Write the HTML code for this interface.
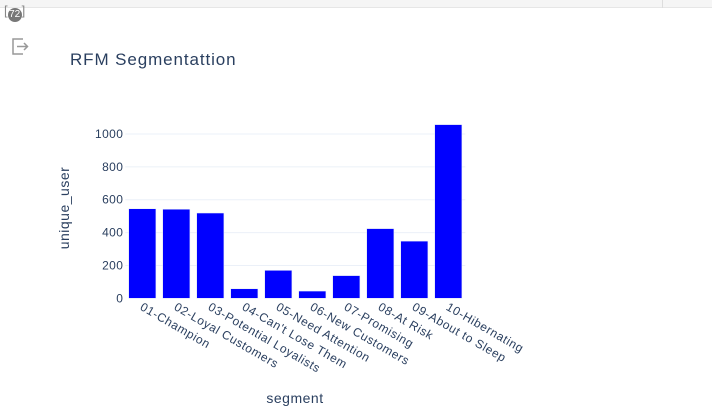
<!DOCTYPE html>
<html><head><meta charset="utf-8"><style>
body{margin:0;width:712px;height:418px;background:#fff;overflow:hidden;font-family:"Liberation Sans",sans-serif;}
</style></head><body>
<div style="position:absolute;left:0;top:0;width:712px;height:7px;background:#f5f5f5;border-bottom:1px solid #e6e6e6"></div>
<div style="position:absolute;left:662px;top:0;width:1px;height:8px;background:#ddd"></div>
<div style="position:absolute;left:4px;top:3px;font-size:13px;color:#888">[<span style="display:inline-block;width:14px;height:14px;border-radius:7px;background:#777;color:#fff;font-size:10px;text-align:center;line-height:14px;vertical-align:-2px">72</span>]</div>
<svg style="position:absolute;left:11px;top:37px" width="20" height="20"><path d="M12 2H2v15h10M6 9.5h10M13 6l3.5 3.5L13 13" fill="none" stroke="#999" stroke-width="1.5"/></svg>
<svg id="chart" width="712" height="418" style="position:absolute;left:0;top:0">
<text x="70" y="65" font-size="17" letter-spacing="0.9" fill="#2a3f5f" font-family="Liberation Sans, sans-serif">RFM Segmentattion</text>
<text transform="translate(69,208) rotate(-90)" text-anchor="middle" font-size="14" letter-spacing="0.5" fill="#2a3f5f">unique_user</text>
<text x="295" y="403" text-anchor="middle" font-size="14" letter-spacing="0.5" fill="#2a3f5f">segment</text>
</svg>
<script>
const categories=["01-Champion","02-Loyal Customers","03-Potential Loyalists","04-Can't Lose Them","05-Need Attention","06-New Customers","07-Promising","08-At Risk","09-About to Sleep","10-Hibernating"];
const values=[545,542,519,58,170,44,138,424,348,1057];
const yTicks=[0,200,400,600,800,1000];
const svg=document.getElementById('chart');
const NS='http://www.w3.org/2000/svg';
const left=125.3,right=465.3,y0=298.3,pxPer=0.1643;
const slot=(right-left)/categories.length;
function y(v){return y0-v*pxPer;}
function xc(i){return left+slot*(i+0.5);}
function mk(t,a){const e=document.createElementNS(NS,t);for(const k in a)e.setAttribute(k,a[k]);svg.appendChild(e);return e;}
yTicks.forEach(t=>{
  if(t>0){const g=mk('line',{x1:left,x2:right,y1:y(t),y2:y(t),stroke:'#ebf0f8','stroke-width':1});
  
  }
  const l=mk('text',{x:left-2,y:y(t)+4,'text-anchor':'end','font-size':12,'letter-spacing':0.4,fill:'#2a3f5f'});
  
  
  l.textContent=t;
});
categories.forEach((c,i)=>{
  const bw=slot*0.8;
  const b=mk('rect',{x:xc(i)-bw/2,y:y(values[i]),width:bw,height:values[i]*pxPer,fill:'#0000ff',stroke:'#e5ecf6','stroke-width':0.5});
  
  
  const t=mk('text',{transform:`translate(${xc(i)-3},${y0+11}) rotate(30)`,'font-size':12,'letter-spacing':0.6,fill:'#2a3f5f'});
  
  
  t.textContent=c;
});
</script>
</body></html>
